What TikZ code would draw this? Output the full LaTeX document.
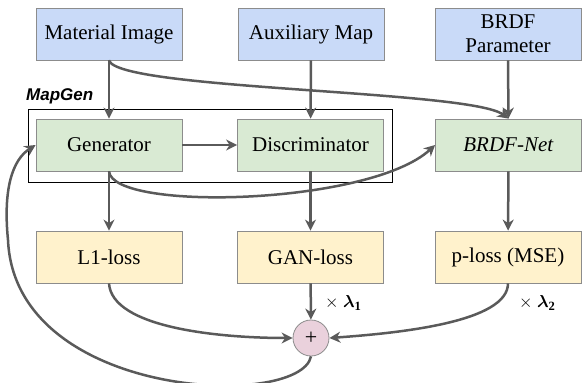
\documentclass[tikz,border=0pt]{standalone}
\usepackage{amsmath}
\usepackage{fontspec}
\setmainfont{Liberation Serif}
\newfontfamily\mapgenfont{Liberation Sans}
\usetikzlibrary{positioning, calc, arrows.meta}

\definecolor{inblue}{HTML}{C9DAF8}
\definecolor{netgreen}{HTML}{D9EAD3}
\definecolor{lossyellow}{HTML}{FFF2CC}
\definecolor{sumpink}{HTML}{EAD1DC}
\definecolor{edgegray}{HTML}{8C8C8C}
\definecolor{arrowgray}{HTML}{5A5A5A}

\begin{document}
\begin{tikzpicture}[x=1pt, y=-1pt, >={Stealth[length=11pt, width=11pt, inset=3.5pt]},
    box/.style={draw=edgegray, line width=0.8pt, minimum width=146pt, minimum height=52pt,
        inner sep=2pt, align=center, font=\fontsize{21}{24}\selectfont},
    inbox/.style={box, fill=inblue},
    netbox/.style={box, fill=netgreen},
    lossbox/.style={box, fill=lossyellow},
    flow/.style={->, draw=arrowgray, line width=2.5pt},
    weight/.style={anchor=west, inner sep=0pt, font=\fontsize{18}{20}\selectfont}]
    \useasboundingbox (0,0) rectangle (582,383);

    % Inputs
    \node[inbox] (mat) at (109,34) {Material Image};
    \node[inbox] (aux) at (311,34) {Auxiliary Map};
    \node[inbox] (brdf) at (508,34) {BRDF\\Parameter};

    % Networks
    \node[netbox] (gen) at (109,145) {Generator};
    \node[netbox] (disc) at (310.5,145) {Discriminator};
    \node[netbox] (net) at (508.5,145) {\textit{BRDF-Net}};

    % MapGen frame
    \draw[black, line width=0.8pt] (28,109) rectangle (392,182);
    \node[anchor=south west, inner sep=0pt, font=\mapgenfont\bfseries\itshape\fontsize{17}{19}\selectfont]
        (mapgen) at (26,104) {MapGen};

    % Losses
    \node[lossbox] (l1) at (109,257) {L1-loss};
    \node[lossbox] (gan) at (310.5,257) {GAN-loss};
    \node[lossbox] (ploss) at (508,257) {p-loss (MSE)};

    % Sum
    \node[circle, draw=edgegray, line width=0.8pt, fill=sumpink, minimum size=36pt, inner sep=0pt,
        font=\fontsize{22}{24}\selectfont] (plus) at (311,338) {+};

    % Straight connectors
    \draw[flow] (mat) -- (gen);
    \draw[flow] (aux) -- (disc);
    \draw[flow] (brdf) -- (net);
    \draw[flow] (gen) -- (disc);
    \draw[flow] (gen) -- (l1);
    \draw[flow] (disc) -- (gan);
    \draw[flow] (net) -- (ploss);
    \draw[flow] (gan) -- (plus);

    % Curved connectors
    \draw[flow] (mat.south) .. controls (118,90) and (470,90) .. (net.north);
    \draw[flow] (gen.south) .. controls (113,212) and (370,205) .. (net.west);
    \draw[flow] (l1.south) .. controls (112,328) and (220,338) .. (plus.west);
    \draw[flow] (ploss.south) .. controls (508,322) and (400,333) .. (plus.east);
    \draw[flow] (plus.south) .. controls (300,410) and (15,400) .. (8,240)
        .. controls (3,190) and (12,160) .. (gen.west);

    % Loss weights
    \node[weight] (w1) at (325,303) {$\times\ \boldsymbol{\lambda}_{\mathbf{1}}$};
    \node[weight] (w2) at (519,303) {$\times\ \boldsymbol{\lambda}_{\mathbf{2}}$};
\end{tikzpicture}
\end{document}
